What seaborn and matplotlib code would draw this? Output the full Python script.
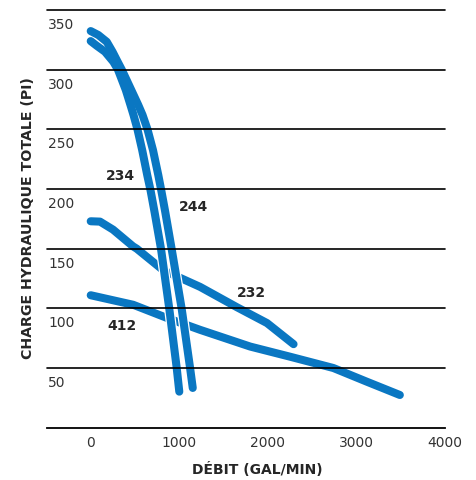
import numpy as np
import pandas as pd
import matplotlib
matplotlib.use('Agg')
from matplotlib import pyplot as plt
from matplotlib import transforms
import seaborn as sns

# pump curves: flow (gal/min) vs total head (psi)
flow_234 = [0, 68, 161, 255, 308, 396, 449, 483, 528, 581, 638, 675, 720, 794, 887, 971, 1000]
head_234 = [324, 320.1, 315.1, 306.7, 300, 283, 270.4, 262.1, 250, 232.7, 211.7, 199.1, 181,
            149.7, 99.7, 50, 30.2]

flow_244 = [0, 86, 181, 246, 297, 351, 458, 537, 585, 641, 703, 763, 796, 841, 914, 1027, 1122, 1152]
head_244 = [332.4, 329.1, 323.4, 315.1, 307.7, 300, 283, 270.4, 262.1, 250, 232.7, 211.7, 199.1,
            181, 149.7, 99.7, 50, 33.3]

flow_232 = [0, 105, 252, 477, 520, 818, 1235, 1650, 1990, 2290]
head_232 = [173, 172.7, 166, 152, 150, 132, 118, 101, 87.7, 70]

flow_412 = [0, 480, 860, 1235, 1800, 2250, 2740, 3115, 3490]
head_412 = [111, 103, 92, 82, 68, 59.5, 50, 38.6, 27.4]

x_ticks = [0, 1000, 2000, 3000, 4000]
y_ticks = [50, 100, 150, 200, 250, 300, 350]

blue = '#0a77c2'
lw = 5.8

sns.set_style('white')
fig = plt.figure(figsize=(4.76, 4.8), dpi=100)
ax = fig.add_axes([0.0994, 0.109, 0.8355, 0.870])


def curve(flow, head, color, width):
    df = pd.DataFrame({'flow': flow, 'head': head})
    sns.lineplot(data=df, x='flow', y='head', sort=False, estimator=None,
                 color=color, lw=width, solid_capstyle='round',
                 solid_joinstyle='round', ax=ax)


curve(flow_232, head_232, blue, lw)
curve(flow_412, head_412, blue, lw)
# the two steep ones get a thin white edge where they cross the others
curve(flow_234, head_234, 'white', lw + 1.8)
curve(flow_244, head_244, 'white', lw + 1.8)
curve(flow_234, head_234, blue, lw)
curve(flow_244, head_244, blue, lw)

ax.set_xlim(-490, 4000)
ax.set_ylim(0, 350)

for s in ['top', 'left', 'right']:
    ax.spines[s].set_visible(False)
ax.spines['bottom'].set_color('black')
ax.spines['bottom'].set_linewidth(1.3)

ax.set_xticks(x_ticks)
ax.set_xticklabels([str(v) for v in x_ticks])
ax.tick_params(axis='x', direction='in', length=10.5, width=1.3, color='black',
               pad=6, labelsize=10, labelcolor='#333333')

ax.set_yticks(y_ticks)
ax.tick_params(axis='y', length=0, labelleft=False)
ax.set_axisbelow(False)
ax.grid(axis='y', color='black', lw=1.2)
for gl in ax.get_ygridlines():
    gl.set_clip_on(False)

# y tick labels sit just under each gridline, left aligned
off = transforms.ScaledTranslation(0.01, -0.15, fig.dpi_scale_trans)
trans = transforms.blended_transform_factory(ax.transAxes, ax.transData) + off
for v in y_ticks:
    ax.text(0, v, str(v), transform=trans, ha='left', va='center',
            fontsize=10, color='#333333')

ax.set_xlabel('DÉBIT (GAL/MIN)', fontsize=10, fontweight='bold', va='center')
ax.xaxis.set_label_coords(0.527, -0.101)
ax.set_ylabel('CHARGE HYDRAULIQUE TOTALE (PI)', fontsize=10.2, fontweight='bold', va='center')
ax.yaxis.set_label_coords(-0.0485, 0.503)

# curve names
ax.text(331, 211, '234', fontsize=10, fontweight='bold', ha='center', va='center')
ax.text(1158, 185, '244', fontsize=10, fontweight='bold', ha='center', va='center')
ax.text(1817, 112.6, '232', fontsize=10, fontweight='bold', ha='center', va='center')
ax.text(350, 85, '412', fontsize=10, fontweight='bold', ha='center', va='center')

fig.savefig('out.png', dpi=100)
